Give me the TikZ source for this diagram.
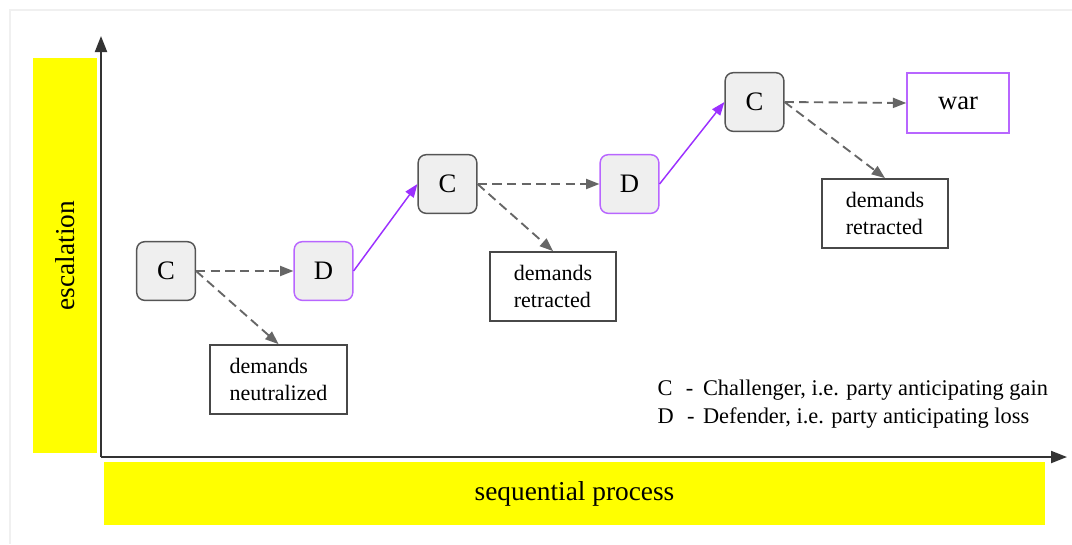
\documentclass[tikz,border=0pt]{standalone}
\usepackage{fontspec}
\setmainfont{Liberation Serif}
\usepackage{tikz}
\usetikzlibrary{arrows.meta}

\definecolor{boxgray}{HTML}{EFEFEF}
\definecolor{edgegray}{HTML}{555555}
\definecolor{dashgray}{HTML}{666666}
\definecolor{violetline}{HTML}{9B30FF}
\definecolor{violetedge}{HTML}{B866FF}
\definecolor{bandyellow}{HTML}{FFFF00}

\newcommand{\bigtxt}{\fontsize{20}{24}\selectfont}
\newcommand{\bandtxt}{\fontsize{20.5}{24}\selectfont}
\newcommand{\smalltxt}{\fontsize{16.5}{20}\selectfont}

\begin{document}
\begin{tikzpicture}[x=0.75pt, y=-0.75pt,
	actor/.style={draw=edgegray, fill=boxgray, line width=1.1pt, rounded corners=6pt, minimum width=44pt, minimum height=44pt, inner sep=0pt, font=\bigtxt},
	chall/.style={actor},
	defend/.style={actor, draw=violetedge},
	outcome/.style={draw=edgegray!85!black, fill=white, line width=1.1pt, align=left, inner sep=0pt, minimum height=52pt, font=\smalltxt},
	warbox/.style={draw=violetedge, fill=white, line width=1.1pt, minimum width=76.5pt, minimum height=45pt, inner sep=0pt, font=\bigtxt},
	band/.style={fill=bandyellow, inner sep=0pt, font=\bandtxt},
	step-dashed/.style={draw=dashgray, line width=1.4pt, dash pattern=on 7pt off 4pt, -{Triangle[length=10pt, width=7.5pt]}},
	escalate/.style={draw=violetline, line width=1.1pt, -{Triangle[length=10pt, width=7.5pt]}},
	axis/.style={draw=black!80, line width=1.5pt, -{Triangle[length=12pt, width=9pt]}}]
	\useasboundingbox (0,0) rectangle (1072,544);
	\draw[black!6, line width=1pt] (10,544) -- (10,10) -- (1072,10);
	% yellow bands with axis labels
	\node[band, rotate=90, minimum width=296pt, minimum height=48pt] (ylab) at (65,255.5) {escalation};
	\node[band, minimum width=706pt, minimum height=47pt] (xlab) at (574.5,493.5) {sequential process};
	% axes
	\coordinate (origin) at (101,457);
	\coordinate (ytip) at (101,36);
	\coordinate (xtip) at (1067,457);
	\draw[axis] (origin) -- (ytip);
	\draw[axis] (origin) -- (xtip);
	% actors
	\node[chall] (c1) at (166,271) {C};
	\node[defend] (d1) at (323.5,271) {D};
	\node[chall] (c2) at (447.5,184) {C};
	\node[defend] (d2) at (629.5,184) {D};
	\node[chall] (c3) at (754.5,102) {C};
	\node[warbox] (war) at (958,103) {war};
	% outcomes
	\node[outcome, minimum width=103pt] (neutr) at (278.5,379.5) {demands\\neutralized};
	\node[outcome, minimum width=94.5pt] (retr1) at (553,286.5) {demands\\retracted};
	\node[outcome, minimum width=94.5pt] (retr2) at (885,213.5) {demands\\retracted};
	% moves
	\draw[step-dashed] (c1.east) -- (d1.west);
	\draw[step-dashed] (c1.east) -- (neutr.north);
	\draw[escalate] (d1.east) -- (c2.west);
	\draw[step-dashed] (c2.east) -- (d2.west);
	\draw[step-dashed] (c2.east) -- (retr1.north);
	\draw[escalate] (d2.east) -- (c3.west);
	\draw[step-dashed] (c3.east) -- (war.west);
	\draw[step-dashed] (c3.east) -- (retr2.north);
	% legend
	\node[anchor=base west, font=\fontsize{16.8}{20}\selectfont] (legc) at (653,395) {\makebox[34pt][l]{C\hspace{10pt}-}Challenger, i.e. party anticipating gain};
	\node[anchor=base west, font=\fontsize{16.8}{20}\selectfont] (legd) at (653,423) {\makebox[34pt][l]{D\hspace{10pt}-}Defender, i.e. party anticipating loss};
\end{tikzpicture}
\end{document}
